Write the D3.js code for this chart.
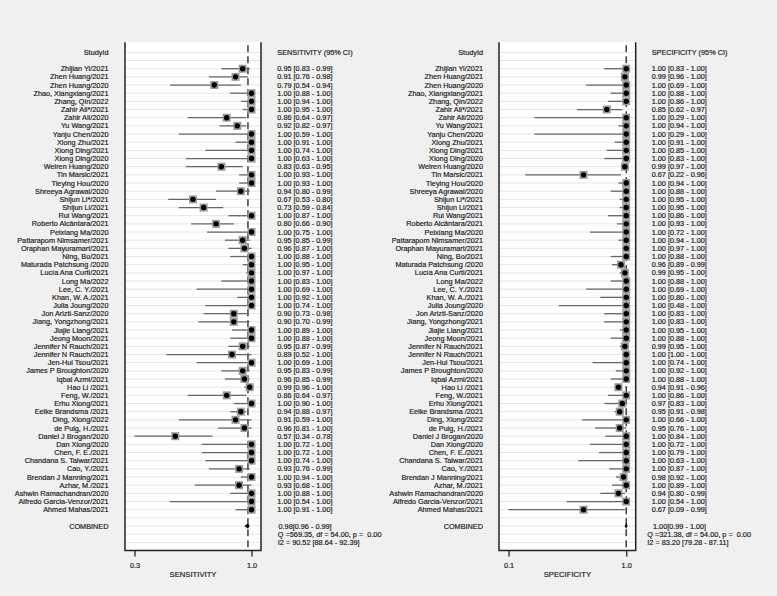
<!DOCTYPE html>
<html>
<head>
<meta charset="utf-8">
<script src="https://cdn.jsdelivr.net/npm/d3@7"></script>
<style>
  body { margin: 0; background: #f0f0f0; }
  text { font-family: "Liberation Sans", Arial, sans-serif; fill: #1a1a1a; stroke: #1a1a1a; stroke-width: 0.18px; }
</style>
</head>
<body>
<div id="chart"></div>
<script>
// study names (same order in both panels)
const studies = [
  "Zhijian Yi/2021", "Zhen Huang/2021", "Zhen Huang/2020", "Zhao, Xiangxiang/2021", "Zhang, Qin/2022",
  "Zahir Ali*/2021", "Zahir Ali/2020", "Yu Wang/2021", "Yanju Chen/2020", "Xiong Zhu/2021",
  "Xiong Ding/2021", "Xiong Ding/2020", "Weiren Huang/2020", "Tin Marsic/2021", "Tieying Hou/2020",
  "Shreeya Agrawal/2020", "Shijun Li*/2021", "Shijun Li/2021", "Rui Wang/2021", "Roberto Alcântara/2021",
  "Peixiang Ma/2020", "Pattarapom Nimsamer/2021", "Oraphan Mayuramart/2021", "Ning, Bo/2021", "Maturada Patchsung /2020",
  "Lucía Ana Curti/2021", "Long Ma/2022", "Lee, C. Y./2021", "Khan, W. A./2021", "Julia Joung/2020",
  "Jon Arizti-Sanz/2020", "Jiang, Yongzhong/2021", "Jiajie Liang/2021", "Jeong Moon/2021", "Jennifer N Rauch/2021",
  "Jennifer N Rauch/2021", "Jen-Hui Tsou/2021", "James P Broughton/2020", "Iqbal Azmi/2021", "Hao Li /2021",
  "Feng, W./2021", "Erhu Xiong/2021", "Eelke Brandsma /2021", "Ding, Xiong/2022", "de Puig, H./2021",
  "Daniel J Brogan/2020", "Dan Xiong/2020", "Chen, F. E./2021", "Chandana S. Talwar/2021", "Cao, Y./2021",
  "Brendan J Manning/2021", "Azhar, M./2021", "Ashwin Ramachandran/2020", "Alfredo Garcia-Venzor/2021", "Ahmed Mahas/2021"
];

// sensitivity
const sensEst = [0.95, 0.91, 0.79, 1.00, 1.00, 1.00, 0.86, 0.92, 1.00, 1.00, 1.00, 1.00, 0.83, 1.00, 1.00,
  0.94, 0.67, 0.73, 1.00, 0.80, 1.00, 0.95, 0.96, 1.00, 1.00, 1.00, 1.00, 1.00, 1.00, 1.00,
  0.90, 0.90, 1.00, 1.00, 0.95, 0.89, 1.00, 0.95, 0.96, 0.99, 0.86, 1.00, 0.94, 0.91, 0.96,
  0.57, 1.00, 1.00, 1.00, 0.93, 1.00, 0.93, 1.00, 1.00, 1.00];
const sensLo = [0.83, 0.76, 0.54, 0.88, 0.94, 0.95, 0.64, 0.82, 0.59, 0.91, 0.74, 0.63, 0.63, 0.93, 0.93,
  0.80, 0.53, 0.59, 0.87, 0.66, 0.75, 0.85, 0.87, 0.88, 0.95, 0.97, 0.83, 0.69, 0.92, 0.74,
  0.73, 0.70, 0.89, 0.88, 0.87, 0.52, 0.69, 0.83, 0.85, 0.96, 0.64, 0.90, 0.88, 0.59, 0.81,
  0.34, 0.72, 0.72, 0.74, 0.76, 0.94, 0.68, 0.88, 0.54, 0.91];
const sensHi = [0.99, 0.98, 0.94, 1.00, 1.00, 1.00, 0.97, 0.97, 1.00, 1.00, 1.00, 1.00, 0.95, 1.00, 1.00,
  0.99, 0.80, 0.84, 1.00, 0.90, 1.00, 0.99, 1.00, 1.00, 1.00, 1.00, 1.00, 1.00, 1.00, 1.00,
  0.98, 0.99, 1.00, 1.00, 0.99, 1.00, 1.00, 0.99, 0.99, 1.00, 0.97, 1.00, 0.97, 1.00, 1.00,
  0.78, 1.00, 1.00, 1.00, 0.99, 1.00, 1.00, 1.00, 1.00, 1.00];
const sensPooled = [0.98, 0.96, 0.99];
const sensStats = ["Q =569.35, df = 54.00, p =  0.00", "I2 = 90.52 [88.64 - 92.39]"];

// specificity
const specEst = [1.00, 0.99, 1.00, 1.00, 1.00, 0.85, 1.00, 1.00, 1.00, 1.00, 1.00, 1.00, 0.99, 0.67, 1.00,
  1.00, 1.00, 1.00, 1.00, 1.00, 1.00, 1.00, 1.00, 1.00, 0.96, 0.99, 1.00, 1.00, 1.00, 1.00,
  1.00, 1.00, 1.00, 1.00, 0.99, 1.00, 1.00, 1.00, 1.00, 0.94, 1.00, 0.97, 0.95, 1.00, 0.95,
  1.00, 1.00, 1.00, 1.00, 1.00, 0.98, 1.00, 0.94, 1.00, 0.67];
const specLo = [0.83, 0.96, 0.69, 0.88, 0.86, 0.62, 0.29, 0.94, 0.29, 0.91, 0.85, 0.83, 0.97, 0.22, 0.94,
  0.88, 0.95, 0.95, 0.86, 0.93, 0.72, 0.94, 0.97, 0.88, 0.89, 0.95, 0.88, 0.69, 0.80, 0.48,
  0.83, 0.83, 0.95, 0.88, 0.95, 1.00, 0.74, 0.92, 0.88, 0.91, 0.86, 0.83, 0.91, 0.66, 0.76,
  0.84, 0.72, 0.79, 0.63, 0.87, 0.92, 0.89, 0.80, 0.54, 0.09];
const specHi = [1.00, 1.00, 1.00, 1.00, 1.00, 0.97, 1.00, 1.00, 1.00, 1.00, 1.00, 1.00, 1.00, 0.96, 1.00,
  1.00, 1.00, 1.00, 1.00, 1.00, 1.00, 1.00, 1.00, 1.00, 0.99, 1.00, 1.00, 1.00, 1.00, 1.00,
  1.00, 1.00, 1.00, 1.00, 1.00, 1.00, 1.00, 1.00, 1.00, 0.96, 1.00, 1.00, 0.98, 1.00, 1.00,
  1.00, 1.00, 1.00, 1.00, 1.00, 1.00, 1.00, 0.99, 1.00, 0.99];
const specPooled = [1.00, 0.99, 1.00];
const specStats = ["Q =321.38, df = 54.00, p =  0.00", "I2 = 83.20 [79.28 - 87.11]"];

const W = 777, H = 596;
const fs = 7.3;
const f2 = d3.format(".2f");

const svg = d3.select("#chart").append("svg")
  .attr("width", W).attr("height", H);
svg.append("rect").attr("width", W).attr("height", H).attr("fill", "#f0f0f0");

// row positions: study rows 0..54, combined row 56
const y = d3.scaleLinear().domain([0, 54]).range([68.7, 509.7]);
const combRow = 56;
const frameTop = y(-3.25), frameBottom = y(59);

const panels = [
  { frameL: 125, frameR: 261, nameX: 108.5, ciX: 277.3, combX: 278.5, statX: 277.8,
    header: "SENSITIVITY (95% CI)", label: "SENSITIVITY",
    est: sensEst, lo: sensLo, hi: sensHi, pooled: sensPooled, stats: sensStats },
  { frameL: 499, frameR: 635.7, nameX: 483, ciX: 651.7, combX: 653, statX: 647.3,
    header: "SPECIFICITY (95% CI)", label: "SPECIFICITY",
    est: specEst, lo: specLo, hi: specHi, pooled: specPooled, stats: specStats }
];

panels.forEach(function (p) {
  const g = svg.append("g");
  const minLo = d3.min(p.lo);
  const x = d3.scaleLinear().domain([minLo, 1]).range([p.frameL + 9.5, p.frameR - 9.5]);

  // white plot area
  g.append("rect")
    .attr("x", p.frameL).attr("y", frameTop)
    .attr("width", p.frameR - p.frameL).attr("height", frameBottom - frameTop)
    .attr("fill", "#fff");

  // faint row lines
  g.selectAll(".grid")
    .data(d3.range(-2, 59))
    .enter().append("line")
    .attr("x1", p.frameL).attr("x2", p.frameR)
    .attr("y1", d => y(d)).attr("y2", d => y(d))
    .attr("stroke", "#e6e6e6").attr("stroke-width", 1);

  // pooled dashed line
  g.append("line")
    .attr("x1", x(p.pooled[0])).attr("x2", x(p.pooled[0]))
    .attr("y1", frameTop + 3).attr("y2", frameBottom)
    .attr("stroke", "#222").attr("stroke-width", 1.3)
    .attr("stroke-dasharray", "7,4");

  // CI lines
  g.selectAll(".ci")
    .data(studies)
    .enter().append("line")
    .attr("x1", (d, i) => x(p.lo[i])).attr("x2", (d, i) => x(p.hi[i]))
    .attr("y1", (d, i) => y(i)).attr("y2", (d, i) => y(i))
    .attr("stroke", "#666").attr("stroke-width", 1.3);

  // weight squares
  g.selectAll(".sq")
    .data(studies)
    .enter().append("rect")
    .attr("x", (d, i) => x(p.est[i]) - 4).attr("y", (d, i) => y(i) - 4)
    .attr("width", 8).attr("height", 8)
    .attr("fill", "#9a9a9a");

  // point estimates
  g.selectAll(".pt")
    .data(studies)
    .enter().append("circle")
    .attr("cx", (d, i) => x(p.est[i])).attr("cy", (d, i) => y(i))
    .attr("r", 2.7).attr("fill", "#000");

  // combined diamond
  const cy = y(combRow);
  const lo = x(p.pooled[1]), hi = x(p.pooled[2]), mid = x(p.pooled[0]);
  g.append("polygon")
    .attr("points", [[Math.min(lo, mid - 1.5), cy], [mid, cy - 2.5], [Math.max(hi, mid + 1.5), cy], [mid, cy + 2.5]].join(" "))
    .attr("fill", "#000");

  // frame: left, right, bottom
  g.append("path")
    .attr("d", `M${p.frameL},${frameTop}V${frameBottom}H${p.frameR}V${frameTop}`)
    .attr("fill", "none").attr("stroke", "#222").attr("stroke-width", 1.5);

  // axis
  const axis = g.append("g")
    .attr("transform", `translate(0,${frameBottom})`)
    .call(d3.axisBottom(x).tickValues([minLo, 1]).tickFormat(d3.format(".1f")).tickSize(6).tickPadding(6));
  axis.select(".domain").remove();
  axis.selectAll("line").attr("stroke", "#222").attr("stroke-width", 1.3);
  axis.selectAll("text").attr("font-size", fs).attr("font-family", "Liberation Sans, Arial, sans-serif").attr("fill", "#1a1a1a");

  g.append("text")
    .attr("x", (p.frameL + p.frameR) / 2).attr("y", 577)
    .attr("text-anchor", "middle").attr("font-size", 7.7)
    .text(p.label);

  // headers
  g.append("text").attr("x", p.nameX).attr("y", y(-2)).attr("dy", "0.35em")
    .attr("text-anchor", "end").attr("font-size", fs).text("StudyId");
  g.append("text").attr("x", p.ciX).attr("y", y(-2)).attr("dy", "0.35em")
    .attr("font-size", fs).text(p.header);

  // study names
  g.selectAll(".name")
    .data(studies)
    .enter().append("text")
    .attr("x", p.nameX).attr("y", (d, i) => y(i)).attr("dy", "0.35em")
    .attr("text-anchor", "end").attr("font-size", fs)
    .text(d => d);

  // CI labels
  g.selectAll(".cilab")
    .data(studies)
    .enter().append("text")
    .attr("x", p.ciX).attr("y", (d, i) => y(i)).attr("dy", "0.35em")
    .attr("font-size", fs)
    .text((d, i) => f2(p.est[i]) + " [" + f2(p.lo[i]) + " - " + f2(p.hi[i]) + "]");

  // combined row
  g.append("text").attr("x", p.nameX).attr("y", cy).attr("dy", "0.35em")
    .attr("text-anchor", "end").attr("font-size", fs).text("COMBINED");
  g.append("text").attr("x", p.combX).attr("y", cy).attr("dy", "0.35em")
    .attr("font-size", fs)
    .text(f2(p.pooled[0]) + "[" + f2(p.pooled[1]) + " - " + f2(p.pooled[2]) + "]");
  g.selectAll(".stat")
    .data(p.stats)
    .enter().append("text")
    .attr("x", p.statX).attr("y", (d, i) => y(combRow + 1 + i)).attr("dy", "0.35em")
    .attr("font-size", fs).attr("xml:space", "preserve")
    .style("white-space", "pre")
    .text(d => d);
});
</script>
</body>
</html>
